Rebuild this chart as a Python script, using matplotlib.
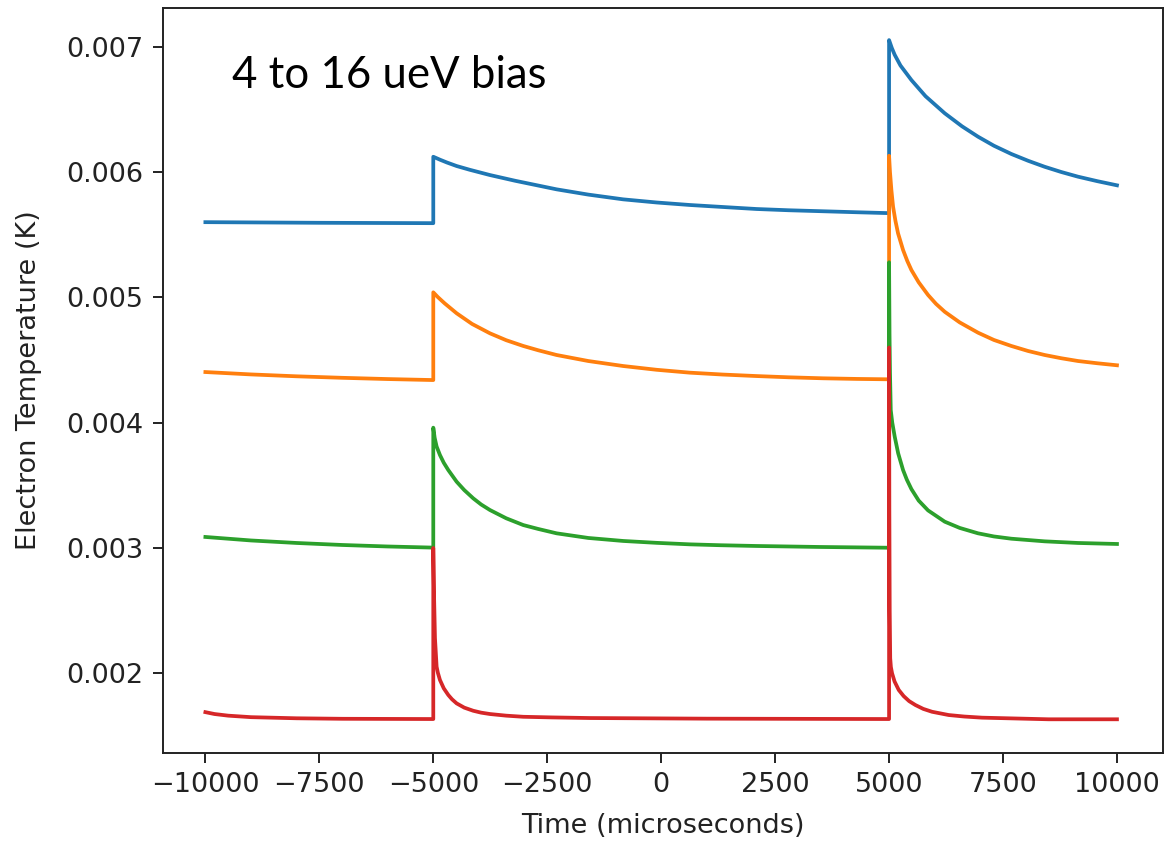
import numpy as np
import matplotlib
matplotlib.use("Agg")
import matplotlib.pyplot as plt

# ---------------- data ----------------
# switching times (microseconds)
jump_times = [-5000, 5000]

# Blue
blue_pre_t = [-10000, -7500, -5000]
blue_pre_T = [0.005600, 0.005595, 0.005592]
blue_d1_dt = [0, 150, 300, 512, 800, 1243, 1800, 2705, 3400, 4167, 4900, 5629, 6400, 7091, 7800, 8553, 9300, 10000]
blue_d1_T = [0.006122, 0.006098, 0.006076, 0.006048, 0.006018, 0.005976, 0.005930, 0.005862, 0.005820,
             0.005782, 0.005757, 0.005737, 0.005720, 0.005705, 0.005695, 0.005687, 0.005679, 0.005672]
blue_d2_dt = [0, 60, 124, 250, 490, 800, 1221, 1600, 1952, 2300, 2683, 3050, 3414, 3780, 4145, 4570, 5000]
blue_d2_T = [0.007053, 0.006990, 0.006935, 0.006850, 0.006734, 0.006605, 0.006469, 0.006365, 0.006282,
             0.006210, 0.006144, 0.006090, 0.006042, 0.006000, 0.005963, 0.005927, 0.005894]

# Orange
orange_pre_t = [-10000, -9000, -8000, -7000, -6000, -5000]
orange_pre_T = [0.004404, 0.004385, 0.004370, 0.004358, 0.004348, 0.004340]
orange_d1_dt = [0, 100, 250, 512, 850, 1243, 1600, 1974, 2300, 2705, 3400, 4167, 4900, 5629, 6350,
                7091, 7800, 8553, 9300, 10000]
orange_d1_T = [0.005040, 0.005002, 0.004952, 0.004873, 0.004788, 0.004713, 0.004658, 0.004612, 0.004578,
               0.004540, 0.004492, 0.004452, 0.004422, 0.004399, 0.004384, 0.004372, 0.004362, 0.004354,
               0.004349, 0.004346]
orange_d2_dt = [0, 20, 51, 88, 140, 197, 307, 400, 490, 650, 855, 1030, 1221, 1550, 1952, 2300, 2683,
                3050, 3414, 3780, 4145, 4570, 5000]
orange_d2_T = [0.006130, 0.006000, 0.005856, 0.005723, 0.005610, 0.005511, 0.005378, 0.005290, 0.005218,
               0.005120, 0.005019, 0.004948, 0.004885, 0.004800, 0.004718, 0.004660, 0.004612, 0.004572,
               0.004540, 0.004514, 0.004492, 0.004474, 0.004458]

# Green
green_pre_t = [-10000, -9000, -8000, -7000, -6000, -5000]
green_pre_T = [0.003088, 0.003060, 0.003040, 0.003024, 0.003012, 0.003003]
green_d1_dt = [0, 30, 73, 146, 230, 329, 512, 680, 877, 1050, 1243, 1600, 1974, 2300, 2705, 3400, 4167,
               4900, 5629, 6300, 7091, 8500, 10000]
green_d1_T = [0.003960, 0.003880, 0.003810, 0.003742, 0.003680, 0.003622, 0.003529, 0.003462, 0.003396,
              0.003347, 0.003303, 0.003237, 0.003183, 0.003152, 0.003117, 0.003080, 0.003056, 0.003041,
              0.003029, 0.003022, 0.003016, 0.003008, 0.003002]
green_d2_dt = [0, 10, 20, 37, 70, 124, 200, 307, 390, 490, 650, 855, 1221, 1550, 1952, 2300, 2683, 3414,
               4145, 5000]
green_d2_T = [0.005280, 0.004700, 0.004400, 0.004100, 0.004000, 0.003888, 0.003755, 0.003622, 0.003545,
              0.003470, 0.003378, 0.003300, 0.003210, 0.003160, 0.003117, 0.003092, 0.003074, 0.003053,
              0.003040, 0.003032]

# Red
red_pre_t = [-10000, -9800, -9500, -9000, -8000, -7000, -5000]
red_pre_T = [0.001690, 0.001675, 0.001662, 0.001650, 0.001641, 0.001637, 0.001635]
red_d1_dt = [0, 15, 37, 73, 100, 146, 230, 329, 410, 512, 680, 877, 1050, 1243, 1600, 1974, 2600, 3436,
             6000, 10000]
red_d1_T = [0.003000, 0.002650, 0.002280, 0.002053, 0.002005, 0.001947, 0.001880, 0.001827, 0.001793,
            0.001760, 0.001726, 0.001701, 0.001686, 0.001675, 0.001662, 0.001653, 0.001648, 0.001643,
            0.001638, 0.001635]
red_d2_dt = [0, 6, 14, 25, 40, 66, 120, 212, 320, 440, 577, 750, 943, 1308, 1650, 2039, 3501, 5000]
red_d2_T = [0.004600, 0.003300, 0.002500, 0.002120, 0.002050, 0.002000, 0.001935, 0.001867, 0.001818,
            0.001778, 0.001747, 0.001716, 0.001693, 0.001667, 0.001655, 0.001646, 0.001633, 0.001633]

x_ticks = [-10000, -7500, -5000, -2500, 0, 2500, 5000, 7500, 10000]
y_ticks = [0.002, 0.003, 0.004, 0.005, 0.006, 0.007]
annotation = "4 to 16 ueV bias"
x_label = "Time (microseconds)"
y_label = "Electron Temperature (K)"


def assemble(pre_t, pre_T, d1_dt, d1_T, d2_dt, d2_T):
    t = list(pre_t)
    T = list(pre_T)
    t += [jump_times[0] + d for d in d1_dt]
    T += list(d1_T)
    t += [jump_times[1] + d for d in d2_dt]
    T += list(d2_T)
    return np.array(t, float), np.array(T, float)


series = [
    (assemble(blue_pre_t, blue_pre_T, blue_d1_dt, blue_d1_T, blue_d2_dt, blue_d2_T), "tab:blue"),
    (assemble(orange_pre_t, orange_pre_T, orange_d1_dt, orange_d1_T, orange_d2_dt, orange_d2_T), "tab:orange"),
    (assemble(green_pre_t, green_pre_T, green_d1_dt, green_d1_T, green_d2_dt, green_d2_T), "tab:green"),
    (assemble(red_pre_t, red_pre_T, red_d1_dt, red_d1_T, red_d2_dt, red_d2_T), "tab:red"),
]

fig = plt.figure(figsize=(11.66, 8.41), dpi=100)
ax = fig.add_axes([163 / 1166, 1 - 753 / 841, 1000 / 1166, 745 / 841])

for (t, T), c in series:
    ax.plot(t, T, color=c, lw=2.7, solid_joinstyle="round")

ax.set_xlim(-10930, 11010)
ax.set_ylim(0.001364, 0.007309)
ax.set_xticks(x_ticks)
ax.set_xticklabels([f"{v:d}".replace("-", "\u2212") for v in x_ticks])
ax.set_yticks(y_ticks)
ax.set_yticklabels([f"{v:.3f}" for v in y_ticks])

fs = 19.5
ax.tick_params(labelsize=fs, length=7, width=1.4, pad=7, colors="#222222")
for s in ax.spines.values():
    s.set_linewidth(1.4)
    s.set_color("#222222")

ax.set_xlabel(x_label, fontsize=fs, color="#222222")
ax.set_ylabel(y_label, fontsize=fs, color="#222222")
ax.xaxis.set_label_coords(0.5, -0.080)
ax.yaxis.set_label_coords(-0.121, 0.5)

fig.text(232 / 1166, 1 - 88 / 841, annotation, fontsize=31.5, family="Lato",
         va="baseline", ha="left", color="black")

fig.savefig("out.png", dpi=100)
